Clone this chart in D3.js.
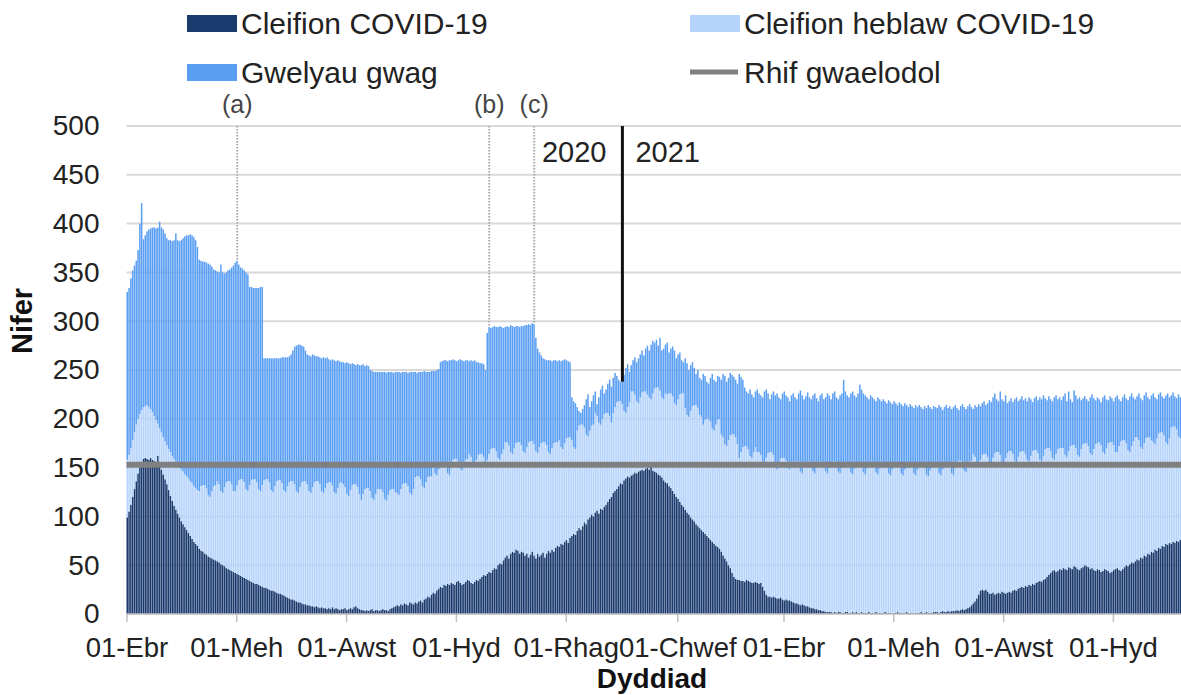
<!DOCTYPE html>
<html><head><meta charset="utf-8">
<script src="https://cdn.jsdelivr.net/npm/d3@7/dist/d3.min.js"></script>
<style>
body{margin:0;background:#fff;}
text{font-family:"Liberation Sans",Arial,sans-serif;}
</style></head>
<body><svg id="c" width="1181" height="695"></svg>
<script>
// ---------- DATA ----------
const startDate = "2020-04-01";
// COVID-19 patients (daily)
const covid = [
99,105,112,120,128,136,144,150,156,159,
160,159,158,160,158,157,156,162,153,148,
143,138,133,127,121,116,111,107,103,99,
95,92,89,86,83,80,77,74,72,70,
67,65,64,62,61,59,58,57,56,55,
54,53,51,50,49,47,46,45,44,43,
42,41,40,39,38,37,36,35,34,33,
32,31,31,30,29,28,27,27,26,25,
24,24,23,22,21,21,20,19,18,17,
16,15,15,14,13,12,12,11,10,10,
9,9,8,8,7,8,7,6,7,6,
6,5,6,5,7,5,6,5,4,5,
5,6,4,5,6,5,7,8,6,5,
4,4,3,4,3,4,5,3,4,4,
3,4,5,4,4,3,5,6,7,8,
9,8,10,9,11,10,9,12,11,10,
12,11,13,14,12,15,16,18,17,20,
22,21,24,26,28,27,30,29,31,30,
32,31,30,33,34,32,30,31,33,35,
34,32,31,33,35,34,36,38,40,39,
41,43,42,45,47,46,50,52,51,55,
58,60,57,62,64,63,66,65,62,64,
63,60,62,58,61,64,60,57,62,59,
61,63,58,62,65,63,66,64,68,70,
69,72,71,74,76,73,78,80,82,81,
85,88,86,90,94,92,97,99,102,100,
104,106,103,108,107,110,112,115,118,120,
124,126,128,131,134,133,137,139,141,140,
142,143,145,144,146,147,148,147,149,150,
148,153,147,146,145,143,142,140,137,135,
134,131,129,126,123,120,118,115,112,110,
107,104,102,99,97,95,92,90,88,86,
84,82,80,78,76,74,72,70,69,67,
64,60,57,54,50,47,42,38,36,35,
35,34,34,33,35,34,33,32,32,33,
32,31,32,28,24,20,18,18,17,18,
17,16,16,17,15,14,15,14,14,13,
12,11,11,10,9,10,9,8,8,7,
6,6,5,5,4,4,3,3,2,2,
2,2,1,2,1,2,2,1,1,2,
2,1,1,2,1,2,1,1,2,1,
1,1,2,1,1,1,2,1,1,1,
1,2,1,1,1,0,1,1,2,1,
1,1,1,2,1,1,1,0,1,1,
1,2,1,1,2,1,1,1,2,2,
2,1,2,3,2,2,3,2,3,3,
3,4,3,4,5,4,5,6,7,9,
11,13,16,20,24,25,24,25,23,21,
21,22,20,21,22,21,23,22,21,22,
23,22,24,25,24,26,27,28,27,29,
28,30,29,31,30,32,33,34,33,35,
36,38,40,42,44,45,43,44,46,45,
47,46,45,48,47,46,49,48,46,45,
47,48,50,49,48,46,47,45,44,46,
45,43,44,46,45,44,42,43,45,46,
47,45,44,46,48,50,49,51,53,52,
54,56,55,58,57,60,59,62,61,64,
63,66,65,68,67,70,69,72,71,73,
72,74,73,75,74,76];
// all occupied beds: COVID-19 + non-COVID-19 patients (daily, top of light band)
const occupied = [
158,163,170,178,186,194,200,205,209,212,
213,214,212,210,207,203,199,195,190,186,
181,177,173,169,166,162,159,156,153,150,
148,146,143,141,139,136,134,131,129,127,
126,131,132,132,129,122,120,126,131,132,
136,133,126,124,130,135,136,136,133,126,
126,132,137,138,138,135,128,126,132,137,
138,138,135,128,126,132,137,138,138,135,
127,125,131,136,137,137,134,127,125,131,
135,136,136,133,126,124,130,135,136,136,
133,126,124,130,135,136,136,133,126,124,
129,134,135,135,132,125,123,129,134,135,
133,130,123,121,127,132,133,133,130,123,
117,123,128,129,129,126,119,117,123,128,
128,128,125,118,116,122,127,128,128,125,
124,122,128,133,134,134,131,124,122,128,
140,141,141,138,131,129,135,140,141,141,
151,144,142,148,153,154,154,151,144,142,
153,158,159,159,156,149,147,153,158,159,
164,161,154,152,158,163,164,164,161,154,
158,164,169,170,170,167,160,158,164,169,
176,176,173,166,164,170,175,176,176,173,
167,165,171,176,177,177,174,167,165,171,
175,176,176,173,166,164,170,175,176,176,
178,171,169,175,180,181,181,178,171,169,
188,193,194,194,191,184,182,188,193,194,
206,203,196,194,200,205,206,206,203,196,
206,212,217,218,218,215,208,206,212,217,
228,228,225,218,216,222,227,228,228,225,
222,220,226,231,232,232,229,222,220,226,
225,226,226,223,216,214,220,225,226,226,
211,204,202,208,213,214,214,211,204,202,
194,199,200,200,197,190,188,194,199,200,
184,181,174,172,178,183,184,184,181,174,
160,166,171,172,172,169,162,160,166,171,
166,166,163,156,154,160,165,166,166,163,
150,148,154,159,160,160,157,150,148,154,
155,156,156,153,146,144,150,155,156,156,
153,146,144,150,155,156,156,153,146,144,
150,155,156,156,153,146,144,150,155,156,
155,152,145,143,149,154,155,155,152,145,
143,149,154,155,155,152,145,143,149,154,
154,154,151,144,142,148,153,154,154,151,
144,142,148,153,154,154,151,144,142,148,
152,153,153,150,143,141,147,152,153,153,
151,144,142,148,153,154,154,151,144,142,
151,156,157,157,154,147,145,151,156,157,
164,161,154,152,158,163,164,164,161,154,
154,160,165,166,166,163,156,154,160,165,
167,167,164,157,155,161,166,167,167,164,
158,156,162,167,168,168,165,158,156,162,
169,170,170,167,160,158,164,169,170,170,
170,163,161,167,172,173,173,170,163,161,
169,174,175,175,172,165,163,169,174,175,
176,173,166,164,170,175,176,176,173,166,
166,172,177,178,178,175,168,166,172,177,
181,181,178,171,169,175,180,181,181,178,
176,174,180,185,186,186,183,176,174,180,
191,192,192,189,182,180];
// total beds: occupied + empty beds (daily, top of bar)
const totalBeds = [
330,334,344,352,357,362,373,400,421,384,
388,392,394,395,396,396,395,396,402,396,
394,390,385,383,383,382,383,390,383,382,
383,385,387,388,388,389,388,386,383,376,
363,362,361,361,360,359,358,356,353,352,
351,350,358,350,349,350,352,353,355,357,
360,362,358,355,354,352,350,348,335,335,
334,334,334,334,335,335,262,262,262,262,
262,262,262,262,262,262,263,263,263,263,
264,266,270,274,275,276,276,275,274,270,
266,265,264,266,265,264,264,263,262,263,
262,263,261,260,261,260,259,260,259,258,
258,257,258,257,256,257,256,255,256,255,
255,256,254,255,254,250,249,248,248,248,
248,248,248,248,247,248,248,248,247,248,
248,248,247,248,248,248,247,248,248,248,
248,247,248,248,248,249,248,248,248,249,
249,249,250,251,258,259,260,260,259,260,
260,261,260,259,260,261,260,259,260,260,
259,260,259,260,258,258,257,257,256,250,
288,294,293,294,295,294,294,295,294,293,
294,295,294,296,295,294,295,295,294,295,
295,296,296,297,296,298,297,283,272,268,
265,262,261,260,260,260,259,260,260,259,
260,259,260,261,260,259,258,222,218,216,
212,208,206,210,214,220,225,212,218,224,
228,215,222,230,234,226,230,236,240,233,
242,247,244,240,238,238,245,252,256,248,
255,260,263,258,262,266,270,265,272,275,
270,276,280,278,281,275,283,270,272,276,
278,268,272,274,270,262,266,268,260,258,
262,257,250,255,258,252,246,250,242,240,
246,244,238,236,242,246,240,238,244,243,
240,246,244,238,242,247,245,243,240,236,
246,243,240,232,228,226,230,225,222,228,
230,226,224,222,228,230,226,220,225,228,
224,226,222,220,226,228,224,222,218,224,
226,222,220,226,229,224,220,223,227,222,
220,224,226,221,218,224,226,220,222,226,
224,220,226,228,222,220,224,226,240,228,
224,222,226,228,224,222,226,235,230,226,
224,222,220,224,222,220,218,222,220,218,
220,218,216,219,217,215,218,216,214,217,
215,213,216,214,212,215,213,211,214,212,
214,212,210,213,211,214,212,210,213,212,
211,214,212,209,212,214,211,213,210,212,
214,211,209,213,215,212,210,213,215,212,
210,214,212,215,213,216,218,214,216,219,
217,222,226,220,218,228,220,218,224,216,
218,221,217,220,222,218,220,223,219,221,
218,222,220,217,221,223,219,222,220,224,
221,219,223,220,218,222,224,220,222,219,
223,226,218,228,220,217,229,224,220,222,
219,221,223,220,218,222,225,221,219,222,
220,217,222,224,220,219,223,221,218,222,
224,220,218,222,225,221,219,223,226,222,
220,223,226,221,219,224,227,222,220,224,
226,222,220,225,227,223,221,224,226,222,
224,227,223,221,225,222];
const baselineValue = 153;
const yTicks = [0,50,100,150,200,250,300,350,400,450,500];
const xTickDates = ["2020-04-01","2020-06-01","2020-08-01","2020-10-01","2020-12-01","2021-02-01","2021-04-01","2021-06-01","2021-08-01","2021-10-01"];
const xTickLabels = ["01-Ebr","01-Meh","01-Awst","01-Hyd","01-Rhag","01-Chwef","01-Ebr","01-Meh","01-Awst","01-Hyd"];
const markerLabels = ["(a)","(b)","(c)"];
const markerDates = ["2020-06-01","2020-10-19","2020-11-13"];
const yearSplitDate = "2021-01-01";
const yearLabels = ["2020","2021"];
const seriesNames = ["Cleifion COVID-19","Cleifion heblaw COVID-19","Gwelyau gwag","Rhif gwaelodol"];
const xTitle = "Dyddiad", yTitle = "Nifer";

// ---------- CHART ----------
const C = {covid:"#1b3a6d", non:"#b6d4fb", empty:"#5b9ff2", base:"#808080", grid:"#d9d9d9", text:"#222"};
const FONT = '"Liberation Sans",Arial,sans-serif';
const svg = d3.select("#c");
const parse = d3.utcParse("%Y-%m-%d");
const t0 = parse(startDate);
const n = covid.length;
const days = d3.range(n).map(i => d3.utcDay.offset(t0, i));
const L = 126.5, R = 1181.3, T = 126, B = 614;
const x = d3.scaleUtc().domain([t0, d3.utcDay.offset(t0, 586)]).range([L, R]);
const y = d3.scaleLinear().domain([0, 500]).range([B, T]);

// gridlines
svg.append("g").selectAll("line").data(yTicks.filter(v=>v>0)).join("line")
  .attr("x1", L).attr("x2", R).attr("y1", d=>y(d)).attr("y2", d=>y(d))
  .attr("stroke", C.grid).attr("stroke-width", 2);

// marker dotted lines
const idxOf = s => Math.round((parse(s) - t0) / 864e5);
svg.append("g").selectAll("line").data(markerDates).join("line")
  .attr("x1", d=>x(parse(d))+0.9).attr("x2", d=>x(parse(d))+0.9)
  .attr("y1", 126).attr("y2", d=>y(totalBeds[idxOf(d)]))
  .attr("stroke", "#aaaaaa").attr("stroke-width", 2).attr("stroke-dasharray", "1.5,1.5");
svg.append("g").selectAll("text").data(markerLabels).join("text")
  .attr("x", (d,i)=>x(parse(markerDates[i]))+0.9).attr("y", 113)
  .attr("text-anchor","middle").attr("font-size", 25).attr("fill","#444").text(d=>d);

// bars
const bw = (x(days[1]) - x(days[0]));
const g = svg.append("g");
function band(lo, hi, color){
  g.append("g").selectAll("rect").data(days).join("rect")
   .attr("x", d=>x(d)).attr("width", bw-0.3)
   .attr("y", (d,i)=>y(hi[i])).attr("height", (d,i)=>Math.max(0, y(lo[i]) - y(hi[i])))
   .attr("fill", color);
}
band(days.map(()=>0), covid, C.covid);
band(covid, occupied, C.non);
band(occupied, totalBeds, C.empty);

// baseline
svg.append("line").attr("x1", L).attr("x2", R).attr("y1", y(baselineValue)).attr("y2", y(baselineValue))
  .attr("stroke", C.base).attr("stroke-width", 6);

// year split
const ys = idxOf(yearSplitDate);
const yx = x(parse(yearSplitDate)) + bw/2;
svg.append("line").attr("x1", yx).attr("x2", yx).attr("y1", T).attr("y2", y(totalBeds[ys]))
  .attr("stroke", "#111").attr("stroke-width", 3);
svg.append("text").attr("x", yx-16).attr("y", 162).attr("text-anchor","end").attr("font-size",29).attr("fill",C.text).text(yearLabels[0]);
svg.append("text").attr("x", yx+13).attr("y", 162).attr("text-anchor","start").attr("font-size",29).attr("fill",C.text).text(yearLabels[1]);

// x axis
const xa = svg.append("g").attr("transform", `translate(0,${B})`)
  .call(d3.axisBottom(x).tickValues(xTickDates.map(parse)).tickSize(8).tickPadding(15)
    .tickFormat((d,i)=>xTickLabels[i]));
xa.select(".domain").attr("stroke","#bfbfbf").attr("stroke-width",1.5).attr("d", `M${L},0H${R}`);
xa.selectAll(".tick line").attr("stroke","#bfbfbf").attr("stroke-width",1.5);
xa.selectAll("text").attr("font-size",27.5).attr("fill",C.text).attr("font-family",FONT);

// y axis
const ya = svg.append("g").attr("transform", `translate(${L},0)`)
  .call(d3.axisLeft(y).tickValues(yTicks).tickSize(0).tickPadding(27));
ya.select(".domain").remove();
ya.selectAll("text").attr("font-size",28).attr("fill",C.text).attr("font-family",FONT);

// titles
svg.append("text").attr("x", 652).attr("y", 688).attr("text-anchor","middle")
  .attr("font-size",28).attr("font-weight","bold").attr("fill","#111").text(xTitle);
svg.append("text").attr("transform","translate(32,321) rotate(-90)").attr("text-anchor","middle")
  .attr("font-size",29).attr("font-weight","bold").attr("fill","#111").text(yTitle);

// legend
const lg = svg.append("g");
const legPos = [[187,23],[690,23],[187,72],[690,72]];
const legCol = [C.covid, C.non, C.empty, C.base];
seriesNames.forEach((s,i)=>{
  const [lx,ly] = legPos[i];
  if(i<3) lg.append("rect").attr("x",lx).attr("y",ly-8).attr("width",50).attr("height",17).attr("fill",legCol[i]);
  else lg.append("line").attr("x1",lx).attr("x2",lx+48).attr("y1",ly).attr("y2",ly).attr("stroke",legCol[i]).attr("stroke-width",5);
  lg.append("text").attr("x", lx+54).attr("y", ly+10.5).attr("font-size",30).attr("fill",C.text).text(s);
});
</script></body></html>
